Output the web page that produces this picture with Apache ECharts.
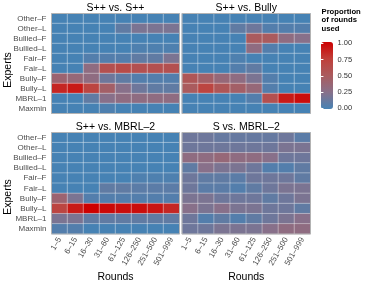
<!DOCTYPE html>
<html><head><meta charset="utf-8">
<script src="https://cdn.jsdelivr.net/npm/echarts@6/dist/echarts.min.js"></script>
<style>html,body{margin:0;padding:0;background:#fff}#c{width:369px;height:284px}</style>
</head><body><div id="c"></div>
<script>
// ---- data ----
const rounds = ['1–5','6–15','16–30','31–60','61–125','126–250','251–500','501–999'];
const experts = ['Other–F','Other–L','Bullied–F','Bullied–L','Fair–F','Fair–L','Bully–F','Bully–L','MBRL–1','Maxmin'];
const panelTitles = ['S++ vs. S++','S++ vs. Bully','S++ vs. MBRL–2','S vs. MBRL–2'];
const legendTicks = [0, 0.25, 0.5, 0.75, 1];
// rows follow `experts`, columns follow `rounds`
const sppVsSpp = [
  [0,0,0,0,0,0,0,0],
  [0,0,0,0,0.1,0.2,0.2,0.2],
  [0,0,0,0,0,0,0,0],
  [0,0,0,0,0,0.03,0.03,0.03],
  [0,0,0.05,0.05,0.05,0.1,0.1,0.2],
  [0,0,0.3,0.6,0.65,0.6,0.6,0.6],
  [0.4,0.35,0.3,0.15,0.1,0.05,0.05,0.05],
  [0.85,0.9,0.7,0.45,0.25,0.15,0.1,0.1],
  [0,0,0.1,0.25,0.3,0.3,0.3,0.3],
  [0,0,0,0.03,0,0,0,0]
];
const sppVsBully = [
  [0,0,0,0,0,0,0,0],
  [0,0,0,0.1,0.15,0.05,0.05,0.05],
  [0,0,0,0,0.5,0.5,0.3,0.25],
  [0,0,0,0,0.3,0.05,0,0],
  [0,0,0,0.03,0,0,0,0],
  [0,0,0,0.05,0.1,0,0,0],
  [0.55,0.45,0.35,0.3,0.2,0.05,0,0],
  [0.5,0.7,0.55,0.45,0.35,0.05,0,0],
  [0,0,0,0,0.05,0.6,0.9,0.95],
  [0,0,0,0,0,0,0,0]
];
const sppVsMbrl2 = [
  [0,0,0,0,0,0,0,0],
  [0,0,0,0,0,0,0,0],
  [0,0,0,0,0,0,0,0],
  [0,0,0,0,0,0,0,0],
  [0,0,0,0,0,0.03,0.03,0.03],
  [0,0,0,0.1,0.1,0.08,0.08,0.08],
  [0.4,0.2,0.05,0.05,0.05,0.05,0.05,0.05],
  [0.7,0.9,1.0,0.97,0.95,0.95,0.92,0.85],
  [0.2,0.2,0.1,0.1,0.1,0.1,0.1,0.1],
  [0.05,0.05,0,0,0,0,0,0]
];
const sVsMbrl2 = [
  [0.15,0.15,0.12,0.12,0.12,0.12,0.15,0.08],
  [0.15,0.15,0.15,0.15,0.15,0.15,0.2,0.2],
  [0.3,0.3,0.35,0.3,0.3,0.25,0.15,0.15],
  [0.1,0.25,0.2,0.2,0.15,0.05,0.05,0.1],
  [0.15,0.1,0.1,0.08,0.15,0.15,0.15,0.1],
  [0.15,0.08,0.08,0.05,0.1,0.15,0.2,0.2],
  [0.2,0.2,0.15,0.15,0.15,0.1,0.15,0.2],
  [0.25,0.2,0.25,0.2,0.2,0.15,0.15,0.1],
  [0.15,0.05,0.1,0.05,0.1,0.15,0.2,0.25],
  [0.15,0.15,0.2,0.2,0.2,0.25,0.3,0.3]
];
const panels = [sppVsSpp, sppVsBully, sppVsMbrl2, sVsMbrl2];

// ---- layout ----
const FONT = '"Liberation Sans", Arial, Helvetica, sans-serif';
const boxes = [
  {l:51.5, t:13.5, w:128, h:100},
  {l:182, t:13.5, w:128.5, h:100},
  {l:51.5, t:132.5, w:128, h:101.5},
  {l:182, t:132.5, w:128.5, h:101.5}
];
const bar = {l:321, t:42, w:12, h:67};
const barAxis = {t:43.3, h:65};

const chart = echarts.init(document.getElementById('c'), null, {renderer:'canvas'});
const grid = [], xAxis = [], yAxis = [], series = [], graphic = [];
boxes.forEach((b, i) => {
  grid.push({left:b.l, top:b.t, width:b.w, height:b.h, show:true, z:5,
    backgroundColor:'transparent', borderColor:'#b3b3b3', borderWidth:1});
  const bottom = i >= 2, left = i % 2 === 0;
  xAxis.push({type:'category', gridIndex:i, data:rounds, axisLine:{show:false},
    axisTick:{show:false}, splitLine:{show:false},
    axisLabel:{show:bottom, rotate:60, fontSize:8, margin:4, color:'#4d4d4d', fontFamily:FONT, interval:0}});
  yAxis.push({type:'category', gridIndex:i, data:experts, inverse:true, axisLine:{show:false},
    axisTick:{show:false}, splitLine:{show:false},
    axisLabel:{show:left, fontSize:8, margin:5, color:'#4d4d4d', fontFamily:FONT, interval:0}});
  const d = [];
  panels[i].forEach((row, r) => row.forEach((v, c) => d.push([c, r, v])));
  series.push({type:'heatmap', xAxisIndex:i, yAxisIndex:i, data:d, z:2,
    itemStyle:{borderColor:'rgba(255,255,255,0.45)', borderWidth:0.8},
    emphasis:{disabled:true}});
  graphic.push({type:'text', x:b.l + b.w/2, y:b.t - 5.5, style:{text:panelTitles[i],
    font:'10.5px ' + FONT, fill:'#000', textAlign:'center', textVerticalAlign:'middle'}});
});
// colorbar tick axes
grid.push({left:bar.l, top:barAxis.t, width:bar.w, height:barAxis.h, show:false});
xAxis.push({type:'value', gridIndex:4, show:false, min:0, max:1});
yAxis.push({type:'value', gridIndex:4, min:0, max:1, position:'right', z:10,
  axisLine:{show:false}, splitLine:{show:false},
  axisTick:{show:true, inside:true, length:2.4, customValues:legendTicks, lineStyle:{color:'#fff', width:1}},
  axisLabel:{show:true, customValues:legendTicks, formatter:v => v.toFixed(2), fontSize:7.5, margin:4.5, color:'#333', fontFamily:FONT}});
yAxis.push({type:'value', gridIndex:4, min:0, max:1, position:'left', z:10,
  axisLine:{show:false}, splitLine:{show:false}, axisLabel:{show:false},
  axisTick:{show:true, inside:true, length:2.4, customValues:legendTicks, lineStyle:{color:'#fff', width:1}}});

// axis titles
[70, 197].forEach(y => graphic.push({type:'text', x:8, y:y, rotation:Math.PI/2,
  style:{text:'Experts', font:'10.5px ' + FONT, fill:'#000', textAlign:'center', textVerticalAlign:'middle'}}));
[boxes[2], boxes[3]].forEach(b => graphic.push({type:'text', x:b.l + b.w/2, y:277,
  style:{text:'Rounds', font:'10.5px ' + FONT, fill:'#000', textAlign:'center', textVerticalAlign:'middle'}}));
graphic.push({type:'text', x:321.5, y:7.5, style:{text:'Proportion\nof rounds\nused',
  font:'bold 7.7px ' + FONT, lineHeight:8.4, fill:'#000', textAlign:'left', textVerticalAlign:'top'}});

chart.setOption({
  animation:false,
  grid, xAxis, yAxis, series, graphic,
  visualMap:{type:'continuous', min:0, max:1, seriesIndex:[0,1,2,3], calculable:false, show:true,
    orient:'vertical', left:bar.l, top:bar.t, itemWidth:bar.w, itemHeight:bar.h, padding:0,
    hoverLink:false, z:4,
    inRange:{color:['#4682B4','#88708A','#AA5B5E','#C0403A','#CD0000']}}
});
</script></body></html>
